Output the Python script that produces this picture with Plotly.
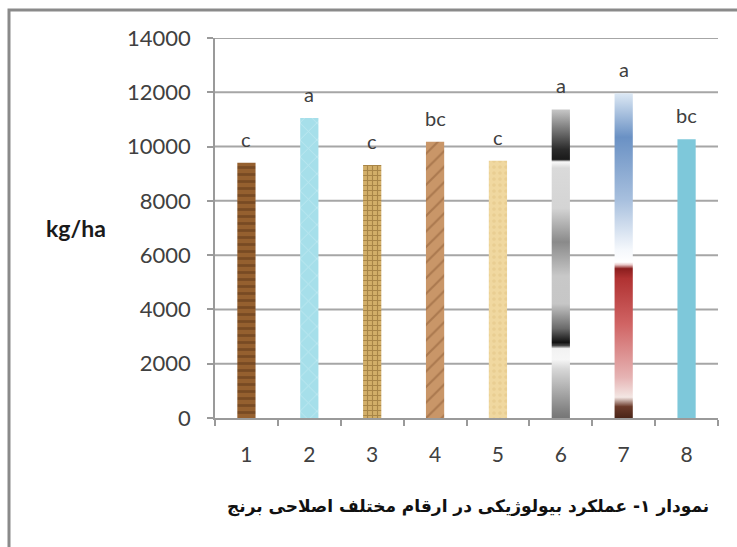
import plotly.graph_objects as go

# Rice cultivars and their biological yield (kg/ha) with mean-separation letters
cultivars = [1, 2, 3, 4, 5, 6, 7, 8]
cultivar_labels = ["1", "2", "3", "4", "5", "6", "7", "8"]
yield_kg_ha = [9400, 11050, 9320, 10180, 9480, 11370, 11960, 10270]
group_letters = ["c", "a", "c", "bc", "c", "a", "a", "bc"]
y_ticks = [0, 2000, 4000, 6000, 8000, 10000, 12000, 14000]
y_tick_labels = ["0", "2000", "4000", "6000", "8000", "10000", "12000", "14000"]

W, H = 737, 547
ML, MR, MT, MB = 215, 19, 38, 129
BAR_W = 0.29

# textured look for each bar (wood, water, burlap, paper, gradients, plain)
bar_bg = ["#95602f", "#a6dfea", "#d2ae68", "#c99668", "#f0d8a0", "#b5b5b5", "#a8bcd8", "#7ec8da"]
bar_fg = ["#5c3517", "#d2f1f6", "#7d5b26", "#8d5c36", "#e2c484", "#b5b5b5", "#a8bcd8", "#7ec8da"]
bar_shape = ["-", "x", "+", "/", ".", "", "", ""]
bar_size = [7, 12, 5, 11, 6, 8, 8, 8]
bar_solid = [0.4, 0.15, 0.4, 0.2, 0.3, 0.3, 0.3, 0.3]

# vertical colour ramps for the gray and blue/red bars (0 = base, 1 = top of bar)
gradients = {
    5: [[0.0, "#767676"], [0.02, "#808080"], [0.16, "#d8d8d8"], [0.19, "#f6f6f6"],
        [0.225, "#f2f2f2"], [0.235, "#444444"], [0.245, "#111111"], [0.29, "#6a6a6a"],
        [0.37, "#c6c6c6"], [0.46, "#c8c8c8"], [0.57, "#8a8a8a"], [0.68, "#d4d4d4"],
        [0.81, "#dadada"], [0.83, "#fafafa"], [0.838, "#1a1a1a"], [0.87, "#2a2a2a"],
        [0.95, "#8a8a8a"], [1.0, "#c8c8c8"]],
    6: [[0.0, "#4a2518"], [0.035, "#6b3a2a"], [0.064, "#f3e6e3"], [0.125, "#e6b4b4"],
        [0.29, "#d06464"], [0.43, "#b03232"], [0.46, "#8b1e1e"], [0.472, "#e8c8c8"],
        [0.48, "#ffffff"], [0.518, "#f5f8fc"], [0.67, "#a8c0de"], [0.865, "#6a91c4"],
        [1.0, "#dce8f4"]],
}

fig = go.Figure()

# horizontal gridlines across the plot, drawn first so the bars sit on top
x_lo, x_hi = cultivars[0] - 0.5, cultivars[-1] + 0.5
gx, gy = [], []
for v in y_ticks[1:]:
    gx += [x_lo, x_hi, None]
    gy += [v, v, None]
fig.add_trace(go.Scatter(x=gx, y=gy, mode="lines", line=dict(color="#a6a6a6", width=2),
                         hoverinfo="skip", showlegend=False, cliponaxis=False))

# one filled column per cultivar, from zero up to its yield
for i, (xc, v) in enumerate(zip(cultivars, yield_kg_ha)):
    col = dict(
        x=[xc - BAR_W / 2, xc - BAR_W / 2, xc + BAR_W / 2, xc + BAR_W / 2, xc - BAR_W / 2],
        y=[0, v, v, 0, 0], mode="lines", fill="toself", line=dict(width=0),
        fillcolor=bar_bg[i], name=cultivar_labels[i], showlegend=False,
        hovertemplate=f"{cultivar_labels[i]}: {v}<extra></extra>",
    )
    if i in gradients:
        col["fillgradient"] = dict(type="vertical", colorscale=gradients[i], start=0, stop=v)
    elif bar_shape[i]:
        col["fillpattern"] = dict(shape=bar_shape[i], fgcolor=bar_fg[i], bgcolor=bar_bg[i],
                                  size=bar_size[i], solidity=bar_solid[i], fillmode="overlay")
    fig.add_trace(go.Scatter(**col))

# significance letters above bars
for xc, v, t in zip(cultivars, yield_kg_ha, group_letters):
    fig.add_annotation(x=xc, y=v, text=t, showarrow=False, yanchor="middle",
                       yshift=24, font=dict(family="Lato", size=20, color="#404040"))

pw, ph = W - ML - MR, H - MT - MB
fig.add_annotation(xref="paper", yref="paper", x=(76 - ML) / pw, xanchor="center",
                   y=(H - MB - 228) / ph, yanchor="middle",
                   text="<b>kg/ha</b>", showarrow=False,
                   font=dict(family="Lato", size=23, color="#1a1a1a"))
fig.add_annotation(xref="paper", yref="paper", x=(468 - ML) / pw, xanchor="center",
                   y=(H - MB - 506) / ph, yanchor="middle",
                   text="<b>نمودار ۱- عملکرد بیولوژیکی در ارقام مختلف اصلاحی برنج</b>",
                   showarrow=False,
                   font=dict(family="DejaVu Sans", size=17, color="#111111"))

# outer frame (top and left edges)
fx = (9 - ML) / pw
fy = (H - MB - 10) / ph
fxr = (W + 10 - ML) / pw
fyb = (H - MB - (H + 10)) / ph
fig.add_shape(type="path", xref="paper", yref="paper",
              path=f"M {fx},{fyb} L {fx},{fy} L {fxr},{fy}",
              fillcolor="rgba(0,0,0,0)", line=dict(color="#8a8a8a", width=3))

# tick marks sit on the category boundaries, labels on the category centres
boundaries = [c - 0.5 for c in cultivars] + [cultivars[-1] + 0.5]

fig.update_layout(
    template="none",
    width=W, height=H, margin=dict(l=ML, r=MR, t=MT, b=MB),
    paper_bgcolor="white", plot_bgcolor="white",
    font=dict(family="Lato", color="#404040"),
    xaxis=dict(
        range=[x_lo, x_hi], tickmode="array", tickvals=boundaries,
        ticktext=[""] * len(boundaries),
        ticks="outside", ticklen=6, tickcolor="#9a9a9a", tickwidth=1.5,
        showline=True, linecolor="#9a9a9a", linewidth=1.5,
        showgrid=False, zeroline=False,
    ),
    xaxis2=dict(
        overlaying="x", matches="x", anchor="y", side="bottom",
        tickmode="array", tickvals=cultivars, ticktext=cultivar_labels,
        ticks="", showline=False, showgrid=False, zeroline=False,
        tickfont=dict(family="Lato", size=21, color="#404040"),
        ticklabelstandoff=22,
    ),
    yaxis=dict(
        range=[0, 14000], tickmode="array", tickvals=y_ticks, ticktext=y_tick_labels,
        ticks="outside", ticklen=6, tickcolor="#9a9a9a", tickwidth=1.5,
        showline=True, linecolor="#9a9a9a", linewidth=1.5,
        showgrid=False, zeroline=False,
        tickfont=dict(family="Lato", size=22, color="#404040"), ticklabelstandoff=12,
    ),
)
# invisible carrier trace so the label axis is drawn
fig.add_trace(go.Scatter(x=cultivars, y=yield_kg_ha, xaxis="x2", mode="none",
                         hoverinfo="skip", showlegend=False))

fig.write_html("out.html")
